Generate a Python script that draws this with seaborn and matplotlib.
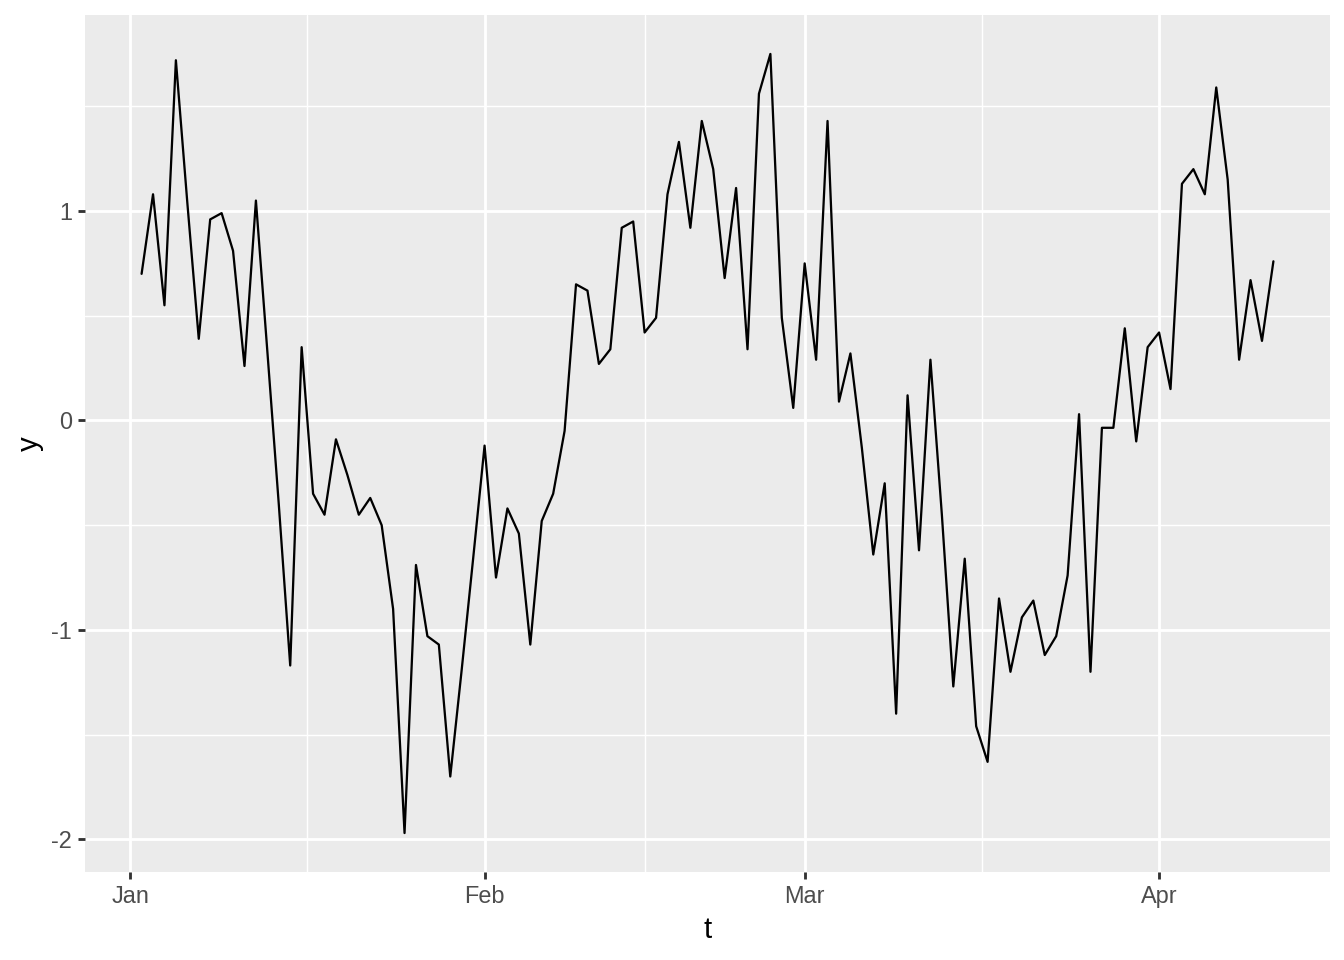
import numpy as np
import pandas as pd
import matplotlib
matplotlib.use("Agg")
import matplotlib.pyplot as plt
import matplotlib.dates as mdates
from matplotlib.ticker import MultipleLocator, FixedLocator
import seaborn as sns

# daily series, Jan 2 .. Apr 11
start_date = "2021-01-02"
y_vals = [0.70, 1.08, 0.55, 1.72, 1.04, 0.39, 0.96, 0.99, 0.81, 0.26,
          1.05, 0.33, -0.40, -1.17, 0.35, -0.35, -0.45, -0.09, -0.26, -0.45,
          -0.37, -0.50, -0.90, -1.97, -0.69, -1.03, -1.07, -1.70, -1.19, -0.66,
          -0.12, -0.75, -0.42, -0.54, -1.07, -0.48, -0.35, -0.05, 0.65, 0.62,
          0.27, 0.34, 0.92, 0.95, 0.42, 0.49, 1.08, 1.33, 0.92, 1.43,
          1.20, 0.68, 1.11, 0.34, 1.56, 1.75, 0.49, 0.06, 0.75, 0.29,
          1.43, 0.09, 0.32, -0.13, -0.64, -0.30, -1.40, 0.12, -0.62, 0.29,
          -0.45, -1.27, -0.66, -1.46, -1.63, -0.85, -1.20, -0.94, -0.86, -1.12,
          -1.03, -0.74, 0.03, -1.20, -0.035, -0.035, 0.44, -0.10, 0.35, 0.42,
          0.15, 1.13, 1.20, 1.08, 1.59, 1.15, 0.29, 0.67, 0.38, 0.76]
y_ticks = [-2, -1, 0, 1]
month_starts = ["2021-01-01", "2021-02-01", "2021-03-01", "2021-04-01", "2021-05-01"]

data = pd.DataFrame({"t": pd.date_range(start_date, periods=len(y_vals), freq="D"),
                     "y": y_vals})

sns.set_style("darkgrid", {"axes.facecolor": "#EBEBEB", "grid.color": "white"})
plt.rcParams["font.family"] = ["Liberation Sans", "DejaVu Sans"]
plt.rcParams["axes.unicode_minus"] = False

fig, ax = plt.subplots(figsize=(7, 5), dpi=192)
fig.subplots_adjust(left=85 / 1344, right=1330 / 1344, top=1 - 15 / 960, bottom=1 - 872 / 960)

sns.lineplot(data=data, x="t", y="y", color="black", linewidth=0.85, ax=ax)

# ggplot-style 5% expansion
tnum = mdates.date2num(data["t"])
xr = tnum.max() - tnum.min()
ax.set_xlim(tnum.min() - 0.05 * xr, tnum.max() + 0.05 * xr)
yr = data["y"].max() - data["y"].min()
ax.set_ylim(data["y"].min() - 0.05 * yr, data["y"].max() + 0.05 * yr)

ms = mdates.date2num(pd.to_datetime(month_starts))
ax.xaxis.set_major_locator(mdates.MonthLocator())
ax.xaxis.set_major_formatter(mdates.DateFormatter("%b"))
ax.xaxis.set_minor_locator(FixedLocator((ms[:-1] + ms[1:]) / 2))
ax.yaxis.set_major_locator(FixedLocator(y_ticks))
ax.yaxis.set_minor_locator(MultipleLocator(0.5))

ax.grid(which="major", color="white", linewidth=1.07)
ax.grid(which="minor", color="white", linewidth=0.53)
ax.set_axisbelow(True)
for s in ax.spines.values():
    s.set_visible(False)

ax.tick_params(which="major", length=2.75, width=1.07, color="#333333",
               pad=2.2, labelcolor="#4D4D4D", labelsize=8.8,
               bottom=True, left=True)
ax.tick_params(which="minor", length=0)

ax.set_xlabel("t", fontsize=11, color="black", labelpad=2.75)
ax.set_ylabel("y", fontsize=11, color="black", labelpad=2.75)

fig.savefig("out.png", dpi=192)
